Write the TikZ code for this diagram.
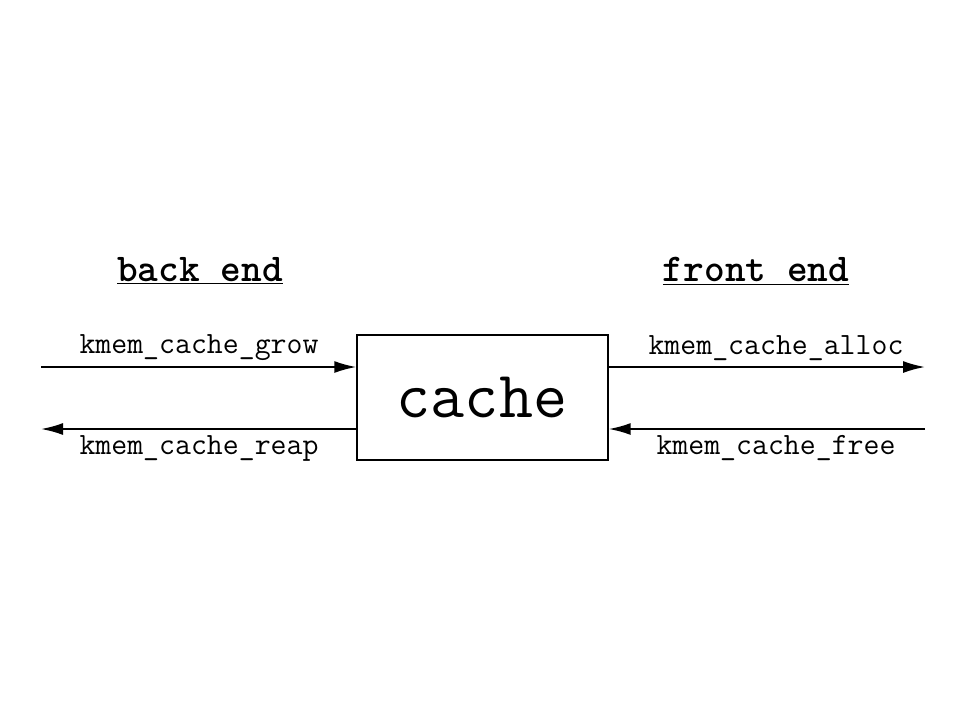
\documentclass[tikz,border=0pt]{standalone}
\usetikzlibrary{arrows.meta}

\begin{document}
\begin{tikzpicture}[x=0.025cm, y=-0.025cm,
  box/.style={draw, line width=1pt, minimum width=251*0.025cm, minimum height=125*0.025cm, inner sep=0pt},
  call/.style={font=\ttfamily\fontsize{22}{26}\selectfont, inner sep=0pt},
  side/.style={font=\ttfamily\bfseries\fontsize{28}{32}\selectfont, inner sep=0pt},
  flow/.style={line width=1.3pt, -{Latex[length=0.55cm, width=0.3cm]}}]
  \useasboundingbox (0,0) rectangle (959,719);
  \node[box] (cache) at (482.5,397.5) {};
  \node[font=\ttfamily\fontsize{47}{52}\selectfont] (name) at (482,397) {cache};
  \node[side] (back) at (200,271) {\underline{back end}};
  \node[side] (front) at (756,271) {\underline{front end}};
  \coordinate (growin) at (41,367);
  \coordinate (reapout) at (41,429);
  \coordinate (allocout) at (925,367);
  \coordinate (freein) at (925,429);
  \draw[flow] (growin) -- (growin -| cache.west);
  \draw[flow] (reapout -| cache.west) -- (reapout);
  \draw[flow] (allocout -| cache.east) -- (allocout);
  \draw[flow] (freein) -- (freein -| cache.east);
  \node[call] (grow) at (199,348) {kmem\_cache\_grow};
  \node[call] (reap) at (199,448) {kmem\_cache\_reap};
  \node[call] (alloc) at (776,348) {kmem\_cache\_alloc};
  \node[call] (free) at (776,448) {kmem\_cache\_free};
\end{tikzpicture}
\end{document}
